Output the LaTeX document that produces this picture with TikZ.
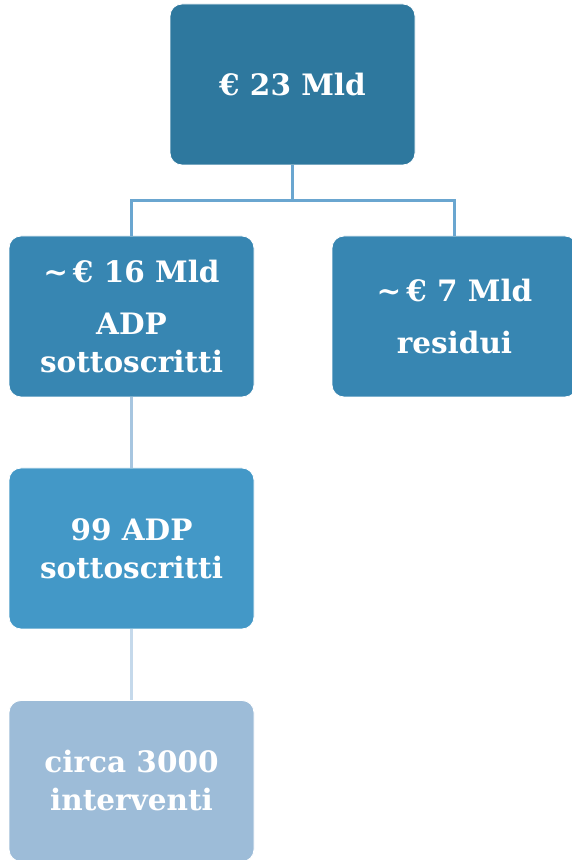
\documentclass[tikz,border=0pt]{standalone}
\usepackage{fontspec}
\setmainfont{DejaVu Serif}
\usetikzlibrary{positioning}
\definecolor{topblue}{RGB}{46,120,158}
\definecolor{midblue}{RGB}{55,134,178}
\definecolor{lowblue}{RGB}{67,152,199}
\definecolor{paleblue}{RGB}{157,188,216}
\definecolor{lineA}{RGB}{106,166,208}
\definecolor{lineB}{RGB}{167,198,224}
\definecolor{lineC}{RGB}{197,217,235}
\tikzset{bx/.style={draw=white, line width=0.8pt, rectangle, rounded corners=12pt,
    minimum width=245pt, minimum height=161pt, align=center, text=white,
    font=\fontsize{29.5}{38}\selectfont\bfseries}}

\begin{document}
\begin{tikzpicture}[x=1pt,y=1pt]
\tikzstyle{link}=[line width=3.5pt]
\useasboundingbox (0,0) rectangle (572,860);
\node[bx, fill=topblue] (tot) at (292.5,775.5) {€ 23 Mld};
\node[bx, fill=midblue] (adp) at (131.5,543.5) {\textasciitilde\,€ 16 Mld\\[14pt] ADP\\ sottoscritti};
\node[bx, fill=midblue] (res) at (454.5,543.5) {\textasciitilde\,€ 7 Mld\\[14pt] residui};
\node[bx, fill=lowblue] (acc) at (131.5,311.5) {99 ADP\\ sottoscritti};
\node[bx, fill=paleblue] (int) at (131.5,79) {circa 3000\\ interventi};
\draw[link, lineA] (tot.south) -- ++(0,-35) -| (adp.north);
\draw[link, lineA] (tot.south) -- ++(0,-35) -| (res.north);
\draw[link, lineB] (adp.south) -- (acc.north);
\draw[link, lineC] (acc.south) -- (int.north);
\end{tikzpicture}
\end{document}
